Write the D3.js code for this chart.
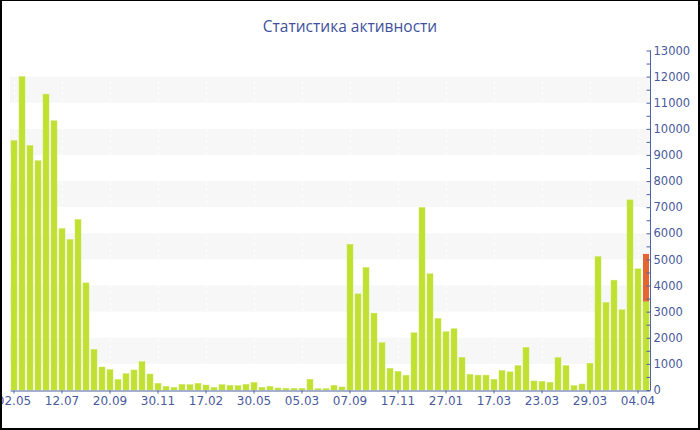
<!DOCTYPE html>
<html>
<head>
<meta charset="utf-8">
<script src="https://cdn.jsdelivr.net/npm/d3@7"></script>
<style>
    html, body { margin: 0; padding: 0; background: #fff; }
    text { font-family: "DejaVu Sans", Verdana, sans-serif; }
</style>
</head>
<body>
<svg id="canvas"></svg>
<script>
var w = 700
var h = 430

// ########## Data ##########

var tickLabels = ["02.05", "12.07", "20.09", "30.11", "17.02", "30.05", "05.03",
    "07.09", "17.11", "27.01", "17.03", "23.03", "29.03", "04.04"];

var activity = [
    9550, 12000, 9360, 8780, 11330, 10310, 6180, 5760, 6530, 4100,
    1555, 880, 780, 400, 625, 765, 1085, 612, 255, 140,
    102, 217, 204, 255, 191, 102, 204, 178, 166, 217,
    293, 102, 140, 76, 64, 64, 64, 408, 51, 51,
    178, 115, 5580, 3680, 4690, 2945, 1810, 828, 714, 565,
    2190, 6985, 4450, 2740, 2230, 2345, 1250, 600, 570, 570,
    410, 745, 695, 935, 1630, 345, 330, 295, 1240, 935,
    166, 229, 1025, 5110, 3350, 4205, 3070, 7280, 4640, 3390
];

// extra part stacked on top of the bar (only the last one)
var extra = activity.map(function (d, i) { return i === activity.length - 1 ? 1820 : 0; });

var yMax = 13000;

// ########## SVG ##########

var svg = d3.select("#canvas")
    .attr("width", w)
    .attr("height", h);

var mLeft = 10, mRight = 650, mTop = 50.5, mBottom = 390;

var x = d3.scaleBand()
    .domain(d3.range(activity.length))
    .range([mLeft, mRight])
    .paddingInner(0.25)
    .paddingOuter(0.125);

var y = d3.scaleLinear()
    .domain([0, yMax])
    .range([mBottom, mTop]);

// ########## Bands and grid ##########

var bands = d3.range(1000, yMax, 2000);

svg.selectAll(".band")
    .data(bands).enter()
    .append("rect")
    .attr("class", "band")
    .attr("x", mLeft)
    .attr("width", mRight - mLeft)
    .attr("y", function (d) { return y(d + 1000); })
    .attr("height", function (d) { return y(d) - y(d + 1000); })
    .attr("fill", "#f7f7f7");

var tickIdx = tickLabels.map(function (d, i) { return i * 6; });

svg.selectAll(".vgrid")
    .data(tickIdx).enter()
    .append("line")
    .attr("class", "vgrid")
    .attr("x1", function (d) { return Math.round(x(d) + x.bandwidth() / 2) + 0.5; })
    .attr("x2", function (d) { return Math.round(x(d) + x.bandwidth() / 2) + 0.5; })
    .attr("y1", mTop)
    .attr("y2", mBottom)
    .attr("stroke", "#ffffff")
    .attr("stroke-dasharray", "3,3");

// ########## Bars ##########

svg.selectAll(".bar")
    .data(activity).enter()
    .append("rect")
    .attr("class", "bar")
    .attr("x", function (d, i) { return x(i); })
    .attr("width", x.bandwidth())
    .attr("y", function (d) { return y(d); })
    .attr("height", function (d) { return mBottom - y(d); })
    .attr("fill", "#c0e032")
    .attr("stroke", "#cbe65a")
    .attr("stroke-width", 0.5);

svg.selectAll(".extra")
    .data(extra).enter()
    .append("rect")
    .attr("class", "extra")
    .attr("x", function (d, i) { return x(i); })
    .attr("width", x.bandwidth())
    .attr("y", function (d, i) { return y(activity[i] + d); })
    .attr("height", function (d, i) { return y(activity[i]) - y(activity[i] + d); })
    .attr("fill", "#e4652f");

// ########## Axes ##########

var axisColor = "#4f62a6";
var textColor = "#4a5a9c";

var yAxis = d3.axisLeft(y)
    .tickValues(d3.range(0, yMax + 1, 500))
    .tickSize(4)
    .tickFormat(function (d) { return d % 1000 === 0 ? d : ""; });

var gy = svg.append("g")
    .attr("transform", "translate(" + (mRight + 0.5) + ",0)")
    .call(yAxis);

gy.select(".domain").attr("stroke", axisColor).attr("d", "M0," + mTop + "V" + mBottom);
gy.selectAll(".tick line").attr("stroke", axisColor);
gy.selectAll(".tick text")
    .attr("x", 3)
    .attr("text-anchor", "start")
    .attr("fill", textColor)
    .style("font-size", "11.5px");

var xAxis = d3.axisBottom(x)
    .tickValues(tickIdx)
    .tickSize(3)
    .tickSizeOuter(0)
    .tickFormat(function (d) { return tickLabels[d / 6]; });

var gx = svg.append("g")
    .attr("transform", "translate(0," + (mBottom + 0.5) + ")")
    .call(xAxis);

gx.select(".domain").attr("stroke", axisColor);
gx.selectAll(".tick line").attr("stroke", axisColor);
gx.selectAll(".tick text")
    .attr("y", 6)
    .attr("fill", textColor)
    .style("font-size", "12px");

// ########## Title ##########

svg.append("text")
    .attr("x", w / 2)
    .attr("y", 32)
    .attr("text-anchor", "middle")
    .attr("fill", "#40519c")
    .style("font-family", "'Open Sans', sans-serif")
    .style("font-size", "15.5px")
    .text("Статистика активности");

// ########## Border ##########

svg.append("rect")
    .attr("x", 1)
    .attr("y", 0)
    .attr("width", w - 2)
    .attr("height", h - 1)
    .attr("fill", "none")
    .attr("stroke", "#000")
    .attr("stroke-width", 2);
</script>
</body>
</html>
